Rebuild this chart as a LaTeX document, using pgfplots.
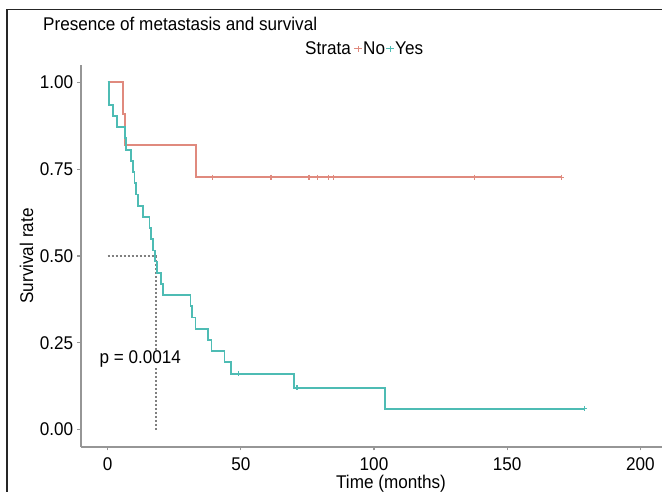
\documentclass[border=0pt]{standalone}
\usepackage{pgfplots}
\pgfplotsset{compat=1.18}
\usepackage{fontspec}
\setmainfont[FakeStretch=0.93]{Liberation Sans}

\definecolor{noCol}{RGB}{224,138,126}
\definecolor{yesCol}{RGB}{78,188,180}
\definecolor{axGray}{RGB}{150,150,150}

\begin{document}
\fontsize{18.4}{22}\selectfont
\begin{tikzpicture}
\begin{axis}[
    at={(81pt,45pt)},
    anchor=south west,
    scale only axis,
    width=586pt,
    height=382pt,
    xmin=-10, xmax=210,
    ymin=-0.05, ymax=1.05,
    axis x line*=bottom,
    axis y line*=left,
    axis line style={axGray, line width=1.3pt},
    tick align=outside,
    major tick length=3.5pt,
    tick style={axGray, line width=1.2pt},
    xtick={0,50,100,150,200},
    ytick={0,0.25,0.5,0.75,1},
    yticklabel style={/pgf/number format/fixed, /pgf/number format/fixed zerofill,
        /pgf/number format/precision=2, xshift=2pt},
    /pgf/number format/assume math mode=true,
    ticklabel style={font=\fontsize{18.4}{22}\selectfont, black},
    xticklabel style={yshift=-1pt},
    clip=false,
]
% median lines
\addplot[dash pattern=on 2pt off 2pt, black!50, line width=1.3pt] coordinates {(0,0.5) (18.2,0.5)};
\addplot[dash pattern=on 2pt off 2pt, black!50, line width=1.3pt] coordinates {(18.2,0.5) (18.2,0)};
% No group
\addplot[const plot, noCol, line width=1.8pt] coordinates {
    (0,1) (5.7,0.909) (6.6,0.8185) (33.1,0.727) (170.4,0.727)
};
\addplot[only marks, mark=+, mark size=2.5pt, noCol, line width=1.2pt] coordinates {
    (39.5,0.727) (61.3,0.727) (75.6,0.727) (78.9,0.727)
    (83.0,0.727) (84.9,0.727) (137.8,0.727) (170.4,0.727)
};
% Yes group
\addplot[const plot, yesCol, line width=1.8pt] coordinates {
    (0,1) (0.5,0.935) (2.1,0.903) (3.6,0.871) (6.4,0.839) (7.0,0.806)
    (8.9,0.774) (9.4,0.742) (10.1,0.710) (10.7,0.677) (11.5,0.645)
    (13.3,0.613) (15.7,0.581) (16.3,0.548) (17.0,0.516) (17.8,0.484)
    (18.6,0.452) (20.1,0.419) (20.9,0.387) (31.1,0.355) (31.8,0.323)
    (33.0,0.290) (37.8,0.258) (39.0,0.226) (43.9,0.194) (46.4,0.161)
    (69.9,0.121) (104.2,0.0605) (179,0.0605)
};
\addplot[only marks, mark=+, mark size=2.5pt, yesCol, line width=1.2pt] coordinates {
    (49.2,0.161) (71.1,0.121) (179,0.0605)
};
\node[anchor=base west, fill=white, inner sep=1pt] at (axis cs:-3.5,0.19) {p = 0.0014};
\end{axis}
% labels
\node[anchor=base] at (391pt,3.5pt) {Time (months)};
\node[anchor=base, rotate=90] at (33pt,236pt) {Survival rate};
\node[anchor=base west, inner sep=0pt] at (43pt,461.5pt) {Presence of metastasis and survival};
% legend
\node[anchor=base east, inner sep=0pt] at (351pt,437pt) {Strata};
\draw[noCol, line width=1pt] (354pt,443pt) -- (362pt,443pt) (358pt,440pt) -- (358pt,446pt);
\node[anchor=base west, inner sep=0pt] at (363pt,437pt) {No};
\draw[yesCol, line width=1pt] (386pt,443pt) -- (394pt,443pt) (390pt,440pt) -- (390pt,446pt);
\node[anchor=base west, inner sep=0pt] at (395pt,437pt) {Yes};
% outer frame
\draw[black!85, line width=1.6pt] (7pt,0pt) -- (7pt,482.5pt) -- (662pt,482.5pt);
\pgfresetboundingbox
\useasboundingbox (0,0) rectangle (662pt,492pt);
\end{tikzpicture}
\end{document}
